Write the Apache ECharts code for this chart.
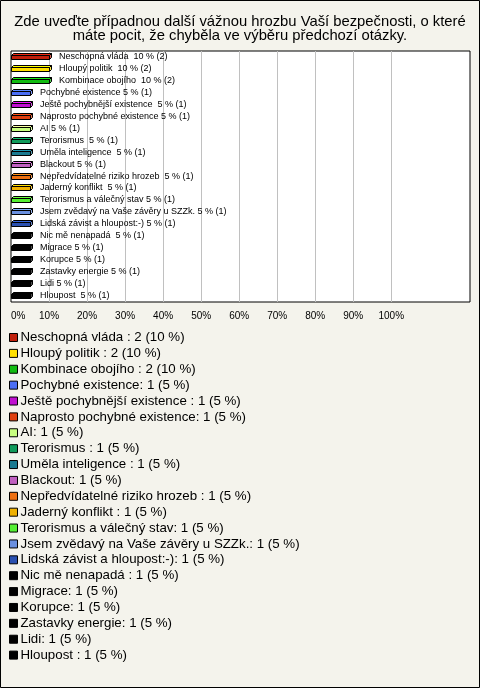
<!DOCTYPE html>
<html>
<head>
<meta charset="utf-8">
<script src="https://cdn.jsdelivr.net/npm/echarts@6/dist/echarts.min.js"></script>
<style>
html,body{margin:0;padding:0;background:#f4f3ec;}
#chart{width:480px;height:688px;}
</style>
</head>
<body>
<div id="chart"></div>
<script>
const titleText = 'Zde uveďte případnou další vážnou hrozbu Vaší bezpečnosti, o které\nmáte pocit, že chyběla ve výběru předchozí otázky.';
const names = ['Neschopná vláda ', 'Hloupý politik ', 'Kombinace obojího ', 'Pochybné existence', 'Ještě pochybnější existence ', 'Naprosto pochybné existence', 'AI', 'Terorismus ', 'Uměla inteligence ', 'Blackout', 'Nepředvídatelné riziko hrozeb ', 'Jaderný konflikt ', 'Terorismus a válečný stav', 'Jsem zvědavý na Vaše závěry u SZZk.', 'Lidská závist a hloupost:-)', 'Nic mě nenapadá ', 'Migrace', 'Korupce', 'Zastavky energie', 'Lidi', 'Hloupost '];
const counts = [2, 2, 2, 1, 1, 1, 1, 1, 1, 1, 1, 1, 1, 1, 1, 1, 1, 1, 1, 1, 1];
const percents = [10, 10, 10, 5, 5, 5, 5, 5, 5, 5, 5, 5, 5, 5, 5, 5, 5, 5, 5, 5, 5];
const colors = ['#c0200c', '#ffe000', '#11bb11', '#4b6ef5', '#c010d0', '#e04010', '#c8ff80', '#109a5a', '#1a7a90', '#c060c0', '#ee7011', '#eeb000', '#55ee33', '#6a90e0', '#2a50b0', '#000000', '#000000', '#000000', '#000000', '#000000', '#000000'];
const gridTicks = [10, 20, 30, 40, 50, 60, 70, 80, 90, 100];

const FONT = '"Liberation Sans", Arial, sans-serif';
const chart = echarts.init(document.getElementById('chart'));

function renderBar(params, api) {
  const v = api.value(0), i = api.value(1);
  const p0 = api.coord([0, i]);
  const p1 = api.coord([v, i]);
  const cy = Math.round(p0[1]) + 0.5;
  const x0 = Math.round(p0[0]) + 0.5;
  const x1 = Math.round(p1[0]) + 0.5;
  const d = 2;
  const c = colors[i];
  const light = echarts.color.lift(c, -0.25);
  const dark = echarts.color.lift(c, 0.3);
  const stroke = {stroke: '#000', lineWidth: 1};
  return {
    type: 'group',
    children: [
      {type: 'polygon', shape: {points: [[x0, cy - 2], [x0 + d, cy - 4], [x1 + d, cy - 4], [x1, cy - 2]]}, style: Object.assign({fill: light}, stroke)},
      {type: 'polygon', shape: {points: [[x1, cy - 2], [x1 + d, cy - 4], [x1 + d, cy], [x1, cy + 2]]}, style: Object.assign({fill: dark}, stroke)},
      {type: 'rect', shape: {x: x0, y: cy - 2, width: x1 - x0, height: 4}, style: Object.assign({fill: c}, stroke)},
      {type: 'text', style: {text: names[i] + ' ' + percents[i] + ' % (' + counts[i] + ')', x: p1[0] + 10, y: cy - 1, verticalAlign: 'middle', align: 'left', fill: '#000', font: '9px ' + FONT}}
    ]
  };
}

const series = names.map((n, i) => ({
  type: 'custom',
  name: n,
  renderItem: renderBar,
  itemStyle: {color: colors[i]},
  encode: {x: 0, y: 1},
  data: [[percents[i], i]],
  z: 5
}));
series.push({
  type: 'line',
  name: '__grid',
  data: [],
  silent: true,
  z: 1,
  markLine: {
    silent: true,
    symbol: 'none',
    label: {show: false},
    lineStyle: {color: '#c0c0c0', width: 1, type: 'solid'},
    data: gridTicks.map(t => ({xAxis: t}))
  }
});

chart.setOption({
  backgroundColor: '#f4f3ec',
  animation: false,
  textStyle: {fontFamily: FONT},
  title: {
    text: titleText,
    left: 'center',
    top: 15.5,
    padding: 0,
    textStyle: {fontSize: 14.8, fontWeight: 'normal', color: '#000', lineHeight: 13.6, fontFamily: FONT}
  },
  grid: {left: 11, width: 459, top: 51, height: 251, show: true, backgroundColor: '#fff', borderColor: '#000', borderWidth: 1},
  xAxis: {
    type: 'value', min: 0, max: 120.7, interval: 10,
    axisLine: {show: false}, axisTick: {show: false}, splitLine: {show: false},
    axisLabel: {color: '#000', fontSize: 10, margin: 9, fontFamily: FONT, alignMinLabel: 'left',
      formatter: v => (v <= 100 && Math.abs(v - Math.round(v)) < 1e-6) ? v + '%' : ''}
  },
  yAxis: {
    type: 'category', data: names, inverse: true,
    axisLine: {show: false}, axisTick: {show: false}, axisLabel: {show: false}, splitLine: {show: false}
  },
  legend: {
    orient: 'vertical', left: 9, top: 331, padding: 0,
    itemWidth: 8, itemHeight: 8, itemGap: 2.88, icon: 'rect',
    data: names,
    itemStyle: {borderColor: '#000', borderWidth: 1},
    textStyle: {fontSize: 13.3, lineHeight: 13, color: '#000', fontFamily: FONT, padding: [0, 0, 0, -2]},
    formatter: n => { const i = names.indexOf(n); return n + ': ' + counts[i] + ' (' + percents[i] + ' %)'; },
    selectedMode: false
  },
  graphic: [{type: 'rect', shape: {x: 0.5, y: 0.5, width: 479, height: 687}, style: {fill: 'none', stroke: '#000', lineWidth: 1}, silent: true, z: 100}],
  series: series
});
</script>
</body>
</html>
